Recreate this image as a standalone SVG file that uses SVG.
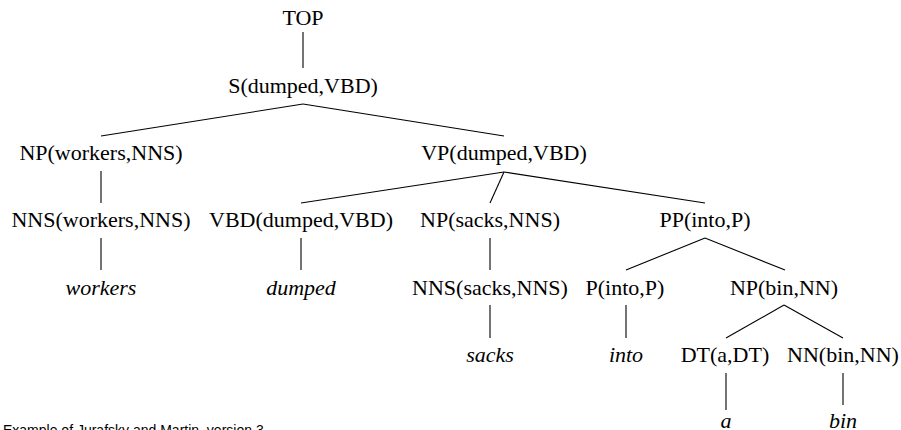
<svg xmlns="http://www.w3.org/2000/svg" width="901" height="430" viewBox="0 0 901 430">
<defs>
  <style>
    .e { stroke: #000; stroke-width: 1.1; fill: none; }
  </style>
</defs>
<rect width="901" height="430" fill="#fff"/>
<g id="edges" stroke="#000" stroke-width="1.1" fill="none">
  <line class="e" x1="303" y1="32" x2="303" y2="68"/>
  <line class="e" x1="303" y1="104" x2="101" y2="136"/>
  <line class="e" x1="303" y1="104" x2="504" y2="136"/>
  <line class="e" x1="101" y1="171" x2="101" y2="203"/>
  <line class="e" x1="504" y1="172" x2="301" y2="203"/>
  <line class="e" x1="504" y1="172" x2="490" y2="203"/>
  <line class="e" x1="504" y1="172" x2="705" y2="203"/>
  <line class="e" x1="101" y1="238" x2="101" y2="270"/>
  <line class="e" x1="301" y1="238" x2="301" y2="270"/>
  <line class="e" x1="490" y1="238" x2="490" y2="270"/>
  <line class="e" x1="705" y1="238" x2="626" y2="270"/>
  <line class="e" x1="705" y1="238" x2="785" y2="270"/>
  <line class="e" x1="490" y1="305" x2="490" y2="338"/>
  <line class="e" x1="626" y1="305" x2="626" y2="338"/>
  <line class="e" x1="784" y1="305" x2="726" y2="338"/>
  <line class="e" x1="784" y1="305" x2="843" y2="338"/>
  <line class="e" x1="726" y1="373" x2="726" y2="410"/>
  <line class="e" x1="843" y1="373" x2="843" y2="405"/>
</g>
<g id="nodes" font-family="Liberation Serif" font-size="22" text-anchor="middle" fill="#000">
<g id="n-top"><text x="303" y="25" font-family="Liberation Serif">TOP</text></g>
<g id="n-s"><text x="303" y="92.5" font-family="Liberation Serif">S(dumped,VBD)</text></g>
<g id="n-np-workers"><text x="101" y="160" font-family="Liberation Serif">NP(workers,NNS)</text></g>
<g id="n-vp"><text x="504" y="160" font-family="Liberation Serif">VP(dumped,VBD)</text></g>
<g id="n-nns-workers"><text x="101" y="227" font-family="Liberation Serif">NNS(workers,NNS)</text></g>
<g id="n-vbd"><text x="301" y="227" font-family="Liberation Serif">VBD(dumped,VBD)</text></g>
<g id="n-np-sacks"><text x="490" y="227" font-family="Liberation Serif">NP(sacks,NNS)</text></g>
<g id="n-pp"><text x="705" y="227" font-family="Liberation Serif">PP(into,P)</text></g>
<g id="w-workers"><text x="101" y="294.5" font-family="Liberation Serif" font-style="italic">workers</text></g>
<g id="w-dumped"><text x="301" y="294.5" font-family="Liberation Serif" font-style="italic">dumped</text></g>
<g id="n-nns-sacks"><text x="490" y="294.5" font-family="Liberation Serif">NNS(sacks,NNS)</text></g>
<g id="n-p"><text x="625" y="294.5" font-family="Liberation Serif">P(into,P)</text></g>
<g id="n-np-bin"><text x="784" y="294.5" font-family="Liberation Serif">NP(bin,NN)</text></g>
<g id="w-sacks"><text x="490" y="362" font-family="Liberation Serif" font-style="italic">sacks</text></g>
<g id="w-into"><text x="626" y="362" font-family="Liberation Serif" font-style="italic">into</text></g>
<g id="n-dt"><text x="725" y="362" font-family="Liberation Serif">DT(a,DT)</text></g>
<g id="n-nn"><text x="843" y="362" font-family="Liberation Serif">NN(bin,NN)</text></g>
<g id="w-a"><text x="726" y="427.5" font-family="Liberation Serif" font-style="italic">a</text></g>
<g id="w-bin"><text x="843" y="427.5" font-family="Liberation Serif" font-style="italic">bin</text></g>
</g>
<text font-family="Liberation Sans" font-size="14" fill="#000" x="3" y="434.5">Example of Jurafsky and Martin, version 3</text>
</svg>
